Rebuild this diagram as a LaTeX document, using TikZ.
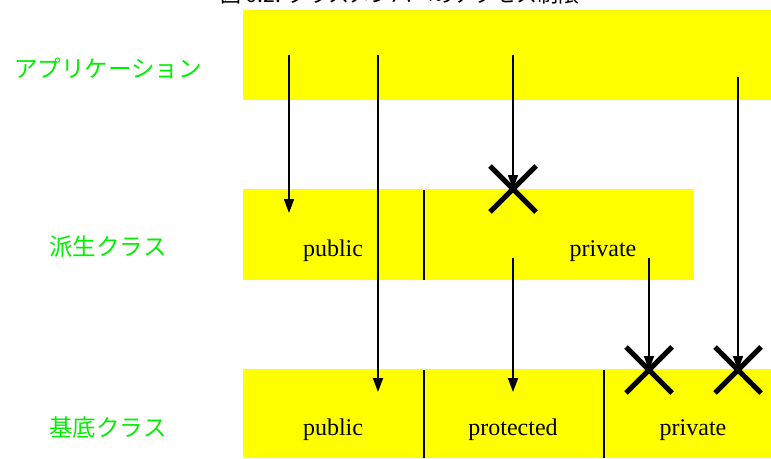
\documentclass[tikz,border=0pt]{standalone}
\usepackage{fontspec}
\setmainfont{Liberation Serif}
\newfontfamily\jpfont{Noto Sans CJK JP}
\usetikzlibrary{arrows.meta}
\definecolor{boxyellow}{RGB}{255,255,0}
\definecolor{labgreen}{RGB}{0,240,0}
\begin{document}
\begin{tikzpicture}[x=1pt,y=-1pt,
  box/.style={fill=boxyellow,draw=none,inner sep=0pt,anchor=north west},
  lbl/.style={font=\fontsize{24}{28}\selectfont,inner sep=0pt},
  side/.style={font=\jpfont\fontsize{23.5}{28}\selectfont,text=labgreen,inner sep=0pt},
  arr/.style={line width=1.8pt,-{Triangle[length=14pt,width=10pt]}},
  divider/.style={line width=1.2pt},
  xmark/.style={line width=5pt}]
\clip (0,0) rectangle (771,458);
\fill[white] (0,0) rectangle (771,458);
% title (cut off at top)
\node[anchor=base,font=\jpfont\fontsize{21}{24}\selectfont,inner sep=0pt] (title) at (400,2) {図 6.2: クラスメンバへのアクセス制限};
% boxes
\node[box,minimum width=528pt,minimum height=90pt] (app) at (243,10) {};
\node[box,minimum width=451pt,minimum height=91pt] (der) at (243,189) {};
\node[box,minimum width=528pt,minimum height=89pt] (base) at (243,369) {};
% dividers
\coordinate (d1t) at (424,190); \coordinate (d1b) at (424,280);
\coordinate (d2t) at (424,370); \coordinate (d2b) at (424,458);
\coordinate (d3t) at (604,370); \coordinate (d3b) at (604,458);
\draw[divider] (d1t) -- (d1b);
\draw[divider] (d2t) -- (d2b);
\draw[divider] (d3t) -- (d3b);
% side labels
\node[side] (lapp) at (108,68) {アプリケーション};
\node[side] (lder) at (108,247) {派生クラス};
\node[side] (lbase) at (108,428) {基底クラス};
% member labels
\node[lbl] (dpub) at (333,251) {public};
\node[lbl] (dpriv) at (603,251) {private};
\node[lbl] (bpub) at (333,430) {public};
\node[lbl] (bprot) at (513,430) {protected};
\node[lbl] (bpriv) at (693,430) {private};
% arrow end points
\coordinate (a1s) at (289,55);  \coordinate (a1e) at (289,213);
\coordinate (a2s) at (378,55);  \coordinate (a2e) at (378,392);
\coordinate (a3s) at (513,55);  \coordinate (x1) at (513,189);
\coordinate (a4s) at (738,77);  \coordinate (x3) at (738,370);
\coordinate (a5s) at (513,258); \coordinate (a5e) at (513,392);
\coordinate (a6s) at (649,258); \coordinate (x2) at (649,370);
\draw[arr] (a1s) -- (a1e);
\draw[arr] (a2s) -- (a2e);
\draw[arr] (a3s) -- (x1);
\draw[arr] (a4s) -- (x3);
\draw[arr] (a5s) -- (a5e);
\draw[arr] (a6s) -- (x2);
% crosses
\draw[xmark] (x1) +(-23,-23) -- +(23,23) (x1) +(-23,23) -- +(23,-23);
\draw[xmark] (x2) +(-23,-23) -- +(23,23) (x2) +(-23,23) -- +(23,-23);
\draw[xmark] (x3) +(-23,-23) -- +(23,23) (x3) +(-23,23) -- +(23,-23);
\end{tikzpicture}
\end{document}
